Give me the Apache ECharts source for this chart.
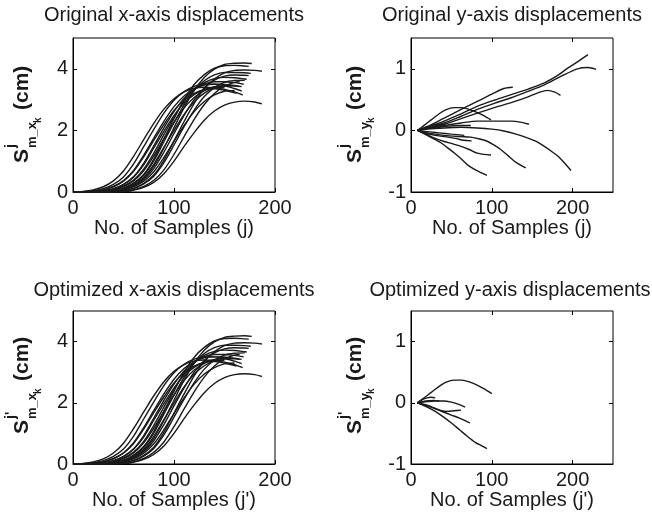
<!DOCTYPE html>
<html>
<head>
<meta charset="utf-8">
<script src="https://cdn.jsdelivr.net/npm/echarts@6/dist/echarts.min.js"></script>
<style>
html, body { margin: 0; padding: 0; background: #fff; }
#chart { width: 652px; height: 519px; }
</style>
</head>
<body>
<div id="chart"></div>
<script>
// tick values
var sampleTicksX = [0, 100, 200];
var sampleTicksY = [0, 100, 200];
var dispTicksX = [0, 2, 4];
var dispTicksY = [-1, 0, 1];

// original x-axis displacements [sample, cm]
var origX01 = [[0,0],[10,0.02],[20,0.07],[30,0.17],[40,0.36],[50,0.68],[60,1.16],[70,1.7],[80,2.23],[90,2.69],[100,3.03],[110,3.25],[120,3.37],[130,3.4],[140,3.38],[150,3.33],[160,3.25],[168,3.15]];
var origX02 = [[0,0],[10,0],[20,0],[30,0.01],[40,0.02],[50,0.08],[60,0.21],[70,0.44],[80,0.84],[90,1.42],[100,2.09],[110,2.74],[120,3.3],[130,3.72],[140,3.99],[150,4.14],[160,4.18],[170,4.19],[177,4.17]];
var origX03 = [[0,0],[10,0],[20,0],[30,0.01],[40,0.04],[50,0.12],[60,0.29],[70,0.57],[80,1.07],[90,1.72],[100,2.38],[110,2.99],[120,3.49],[130,3.81],[140,4.02],[150,4.1],[160,4.11],[170,4.09],[174,4.08]];
var origX04 = [[0,0],[10,0],[20,0],[30,0],[40,0.01],[50,0.04],[60,0.12],[70,0.28],[80,0.55],[90,1.03],[100,1.66],[110,2.29],[120,2.88],[130,3.36],[140,3.67],[150,3.87],[160,3.95],[170,3.96],[180,3.95],[187,3.92]];
var origX05 = [[0,0],[10,0],[20,0],[30,0.01],[40,0.04],[50,0.12],[60,0.27],[70,0.54],[80,1.01],[90,1.63],[100,2.25],[110,2.83],[120,3.3],[130,3.61],[140,3.8],[150,3.88],[160,3.88],[170,3.87],[176,3.85]];
var origX06 = [[0,0],[10,0],[20,0],[30,0.01],[40,0.02],[50,0.08],[60,0.19],[70,0.4],[80,0.76],[90,1.29],[100,1.9],[110,2.49],[120,3.0],[130,3.38],[140,3.63],[150,3.76],[160,3.8],[170,3.79],[174,3.78]];
var origX07 = [[0,0],[10,0],[20,0.01],[30,0.02],[40,0.07],[50,0.19],[60,0.39],[70,0.74],[80,1.26],[90,1.86],[100,2.44],[110,2.94],[120,3.31],[130,3.55],[140,3.68],[150,3.72],[160,3.71],[170,3.67],[172,3.66]];
var origX08 = [[0,0],[10,0],[20,0],[30,0],[40,0.01],[50,0.04],[60,0.11],[70,0.26],[80,0.51],[90,0.95],[100,1.53],[110,2.12],[120,2.66],[130,3.1],[140,3.39],[150,3.56],[160,3.62],[170,3.63]];
var origX09 = [[0,0],[10,0],[20,0.01],[30,0.04],[40,0.11],[50,0.25],[60,0.5],[70,0.93],[80,1.5],[90,2.08],[100,2.61],[110,3.04],[120,3.33],[130,3.51],[140,3.58],[150,3.58],[160,3.55],[169,3.5]];
var origX10 = [[0,0],[10,0.01],[20,0.02],[30,0.07],[40,0.18],[50,0.37],[60,0.7],[70,1.19],[80,1.75],[90,2.29],[100,2.77],[110,3.12],[120,3.34],[130,3.47],[140,3.5],[150,3.49],[160,3.46],[167,3.42]];
var origX11 = [[0,0],[10,0],[20,0.01],[30,0.02],[40,0.07],[50,0.17],[60,0.36],[70,0.69],[80,1.17],[90,1.73],[100,2.26],[110,2.73],[120,3.07],[130,3.29],[140,3.42],[150,3.44],[160,3.36],[167,3.28]];
var origX12 = [[0,0],[10,0.01],[20,0.04],[30,0.11],[40,0.25],[50,0.49],[60,0.91],[70,1.47],[80,2.03],[90,2.56],[100,2.98],[110,3.26],[120,3.43],[130,3.5],[140,3.5],[150,3.48],[157,3.45]];
var origX13 = [[0,0],[10,0],[20,0],[30,0.01],[40,0.03],[50,0.1],[60,0.24],[70,0.48],[80,0.9],[90,1.45],[100,2.0],[110,2.52],[120,2.93],[130,3.21],[140,3.38],[150,3.45],[160,3.44],[165,3.42]];
var origX14 = [[0,0],[10,0],[20,0.01],[30,0.03],[40,0.1],[50,0.24],[60,0.48],[70,0.88],[80,1.43],[90,1.97],[100,2.48],[110,2.89],[120,3.16],[130,3.33],[140,3.4],[150,3.38]];
var origX15 = [[0,0],[10,0.01],[20,0.02],[30,0.07],[40,0.17],[50,0.35],[60,0.67],[70,1.14],[80,1.68],[90,2.19],[100,2.65],[110,2.98],[120,3.2],[130,3.32],[140,3.35],[150,3.3],[162,3.2]];
var origX16 = [[0,0],[10,0],[20,0],[30,0],[40,0.01],[50,0.02],[60,0.07],[70,0.18],[80,0.38],[90,0.72],[100,1.22],[110,1.8],[120,2.36],[130,2.84],[140,3.2],[150,3.44],[160,3.56],[165,3.58]];
var origX17 = [[0,0],[10,0],[20,0],[30,0],[40,0.01],[50,0.01],[60,0.06],[70,0.15],[80,0.31],[90,0.59],[100,1.0],[110,1.48],[120,1.93],[130,2.33],[140,2.63],[150,2.82],[160,2.92],[170,2.95],[180,2.92],[187,2.86]];
var origX18 = [[0,0],[10,0],[20,0],[30,0.01],[40,0.02],[50,0.07],[60,0.17],[70,0.35],[80,0.66],[90,1.12],[100,1.65],[110,2.16],[120,2.61],[130,2.94],[140,3.15],[150,3.27],[160,3.3]];

// original y-axis displacements
var origY01 = [[8,0],[20,0.05],[41,0.15],[62,0.27],[82,0.39],[103,0.49],[124,0.58],[145,0.67],[165,0.77],[180,0.88],[194,1.01],[207,1.12],[219,1.23]];
var origY02 = [[8,0],[20,0.04],[41,0.12],[62,0.23],[82,0.34],[103,0.44],[124,0.53],[144,0.63],[165,0.74],[186,0.88],[206,1.0],[219,1.02],[229,0.99]];
var origY03 = [[8,0],[20,0.03],[41,0.1],[62,0.19],[82,0.28],[103,0.37],[124,0.45],[144,0.54],[157,0.61],[169,0.65],[178,0.62],[185,0.57]];
var origY04 = [[8,0],[20,0.06],[41,0.2],[62,0.34],[82,0.47],[103,0.61],[115,0.68],[126,0.7]];
var origY05 = [[8,0],[15,0.07],[25,0.17],[37,0.29],[46,0.35],[54,0.37],[62,0.37],[70,0.35],[80,0.3],[90,0.24],[99,0.17]];
var origY06 = [[8,0],[20,0.03],[41,0.08],[62,0.12],[82,0.15],[103,0.15],[124,0.15],[137,0.13],[146,0.1]];
var origY07 = [[8,0],[20,0.03],[40,0.06],[60,0.08],[74,0.08]];
var origY08 = [[8,0],[20,0.02],[41,0.04],[62,0.05],[82,0.04],[100,0.02],[115,-0.01],[130,-0.06],[144,-0.12],[155,-0.18],[165,-0.26],[175,-0.35],[182,-0.42],[190,-0.53],[198,-0.65]];
var origY09 = [[8,0],[20,-0.04],[41,-0.08],[60,-0.1],[74,-0.11],[85,-0.14],[95,-0.18],[103,-0.24],[111,-0.31],[120,-0.41],[128,-0.5],[135,-0.56],[142,-0.61]];
var origY10 = [[8,0],[20,-0.07],[30,-0.13],[41,-0.18],[52,-0.22],[62,-0.26],[72,-0.31],[82,-0.37],[90,-0.39],[99,-0.4]];
var origY11 = [[8,0],[20,-0.08],[30,-0.15],[37,-0.2],[45,-0.28],[54,-0.37],[62,-0.46],[70,-0.56],[77,-0.62],[84,-0.67],[94,-0.73]];
var origY12 = [[8,0],[20,-0.05],[30,-0.08],[41,-0.1],[55,-0.13],[65,-0.16],[75,-0.17]];
var origY13 = [[8,0],[20,-0.02],[35,-0.04],[50,-0.06],[66,-0.08]];
var origY14 = [[8,0],[20,0.06],[28,0.09],[35,0.1],[42,0.09]];

// optimized y-axis displacements
var optY01 = [[8,0],[15,0.07],[25,0.17],[37,0.29],[46,0.35],[54,0.37],[62,0.37],[70,0.35],[80,0.3],[90,0.23],[100,0.15]];
var optY02 = [[8,0],[20,-0.07],[30,-0.14],[40,-0.23],[50,-0.33],[60,-0.44],[70,-0.55],[80,-0.65],[87,-0.7],[94,-0.75]];
var optY03 = [[8,0],[20,-0.05],[30,-0.1],[40,-0.15],[50,-0.2],[60,-0.25],[67,-0.29],[73,-0.33]];
var optY04 = [[8,0],[20,0.02],[30,0.03],[40,0.03],[50,0.01],[60,-0.03],[67,-0.07]];
var optY05 = [[8,0],[20,-0.04],[30,-0.09],[38,-0.13],[45,-0.14],[53,-0.13],[62,-0.12]];
var optY06 = [[8,0],[14,0.05],[20,0.08],[25,0.09],[30,0.08]];
var optY07 = [[8,0],[18,0.03],[28,0.04],[35,0.03]];

var origXCurves = [origX01, origX02, origX03, origX04, origX05, origX06, origX07, origX08, origX09,
  origX10, origX11, origX12, origX13, origX14, origX15, origX16, origX17, origX18];
var optXCurves = origXCurves;
var origYCurves = [origY01, origY02, origY03, origY04, origY05, origY06, origY07,
  origY08, origY09, origY10, origY11, origY12, origY13, origY14];
var optYCurves = [optY01, optY02, optY03, optY04, optY05, optY06, optY07];

var FONT = '"Liberation Sans", Arial, Helvetica, sans-serif';
var INK = '#1a1a1a';

var grids = [
  {left: 73, top: 38, width: 202, height: 154},
  {left: 411, top: 38, width: 202, height: 154},
  {left: 73, top: 311, width: 202, height: 153},
  {left: 411, top: 311, width: 202, height: 153}
].map(function (g) {
  g.show = true;
  g.borderColor = '#000';
  g.borderWidth = 1;
  g.backgroundColor = 'transparent';
  return g;
});

function xAxisMain(gi, max, ticks, name) {
  return {
    type: 'value', gridIndex: gi, min: 0, max: max, position: 'bottom',
    name: name, nameLocation: 'middle', nameGap: 26,
    nameTextStyle: {fontSize: 20, color: INK, fontFamily: FONT},
    axisLine: {show: true, onZero: false, lineStyle: {color: '#000', width: 1}},
    axisTick: {show: true, inside: true, length: 4, customValues: ticks, lineStyle: {color: '#000'}},
    axisLabel: {show: true, customValues: ticks, margin: 6, fontSize: 20, color: INK, fontFamily: FONT},
    splitLine: {show: false}
  };
}
function xAxisTop(gi, max, ticks) {
  return {
    type: 'value', gridIndex: gi, min: 0, max: max, position: 'top',
    axisLine: {show: false, onZero: false},
    axisTick: {show: true, inside: true, length: 4, customValues: ticks, lineStyle: {color: '#000'}},
    axisLabel: {show: false},
    splitLine: {show: false}
  };
}
function yAxisMain(gi, min, max, ticks) {
  return {
    type: 'value', gridIndex: gi, min: min, max: max, position: 'left',
    axisLine: {show: true, onZero: false, lineStyle: {color: '#000', width: 1}},
    axisTick: {show: true, inside: true, length: 4, customValues: ticks, lineStyle: {color: '#000'}},
    axisLabel: {show: true, customValues: ticks, margin: 5, fontSize: 20, color: INK, fontFamily: FONT},
    splitLine: {show: false}
  };
}
function yAxisRight(gi, min, max, ticks) {
  return {
    type: 'value', gridIndex: gi, min: min, max: max, position: 'right',
    axisLine: {show: false, onZero: false},
    axisTick: {show: true, inside: true, length: 4, customValues: ticks, lineStyle: {color: '#000'}},
    axisLabel: {show: false},
    splitLine: {show: false}
  };
}

var series = [];
function addCurves(curves, gi) {
  curves.forEach(function (c) {
    series.push({
      type: 'line', xAxisIndex: gi, yAxisIndex: gi, data: c,
      showSymbol: false, smooth: 0.3, silent: true,
      lineStyle: {color: INK, width: 1.4}
    });
  });
}
addCurves(origXCurves, 0);
addCurves(origYCurves, 1);
addCurves(optXCurves, 2);
addCurves(optYCurves, 3);

function title(x, y, text) {
  return {
    type: 'text', x: x, y: y, silent: true,
    style: {text: text, font: '20px ' + FONT, fill: INK, align: 'center', verticalAlign: 'top'}
  };
}
// rotated y label: S^sup_{m_<letter>_k} (cm)
function yLabel(x, y, sup, axisLetter) {
  return {
    type: 'group', x: x, y: y, rotation: Math.PI / 2, silent: true,
    children: [
      {type: 'text', x: 0, y: 0, style: {text: 'S', font: 'bold 21px ' + FONT, fill: INK, verticalAlign: 'middle'}},
      {type: 'text', x: 15, y: -11, style: {text: sup, font: 'bold 14px ' + FONT, fill: INK, verticalAlign: 'middle'}},
      {type: 'text', x: 15, y: 10, style: {text: 'm_' + axisLetter, font: 'bold 13px ' + FONT, fill: INK, verticalAlign: 'middle'}},
      {type: 'text', x: 40, y: 16, style: {text: 'k', font: 'bold 10px ' + FONT, fill: INK, verticalAlign: 'middle'}},
      {type: 'text', x: 53, y: 0, style: {text: '(cm)', font: 'bold 21px ' + FONT, fill: INK, verticalAlign: 'middle'}}
    ]
  };
}

var chart = echarts.init(document.getElementById('chart'), null, {renderer: 'canvas'});
chart.setOption({
  animation: false,
  backgroundColor: '#fff',
  textStyle: {fontFamily: FONT},
  grid: grids,
  xAxis: [
    xAxisMain(0, 200, sampleTicksX, 'No. of Samples (j)'),
    xAxisMain(1, 250, sampleTicksY, 'No. of Samples (j)'),
    xAxisMain(2, 200, sampleTicksX, "No. of Samples (j')"),
    xAxisMain(3, 250, sampleTicksY, "No. of Samples (j')"),
    xAxisTop(0, 200, sampleTicksX),
    xAxisTop(1, 250, sampleTicksY),
    xAxisTop(2, 200, sampleTicksX),
    xAxisTop(3, 250, sampleTicksY)
  ],
  yAxis: [
    yAxisMain(0, 0, 5, dispTicksX),
    yAxisMain(1, -1, 1.5, dispTicksY),
    yAxisMain(2, 0, 5, dispTicksX),
    yAxisMain(3, -1, 1.5, dispTicksY),
    yAxisRight(0, 0, 5, dispTicksX),
    yAxisRight(1, -1, 1.5, dispTicksY),
    yAxisRight(2, 0, 5, dispTicksX),
    yAxisRight(3, -1, 1.5, dispTicksY)
  ],
  series: series,
  graphic: [
    title(174, 5, 'Original x-axis displacements'),
    title(512, 5, 'Original y-axis displacements'),
    title(174, 280, 'Optimized x-axis displacements'),
    title(510, 280, 'Optimized y-axis displacements'),
    yLabel(22, 163, 'j', 'x'),
    yLabel(355, 163, 'j', 'y'),
    yLabel(22, 434, "j'", 'x'),
    yLabel(355, 434, "j'", 'y')
  ]
});
</script>
</body>
</html>
